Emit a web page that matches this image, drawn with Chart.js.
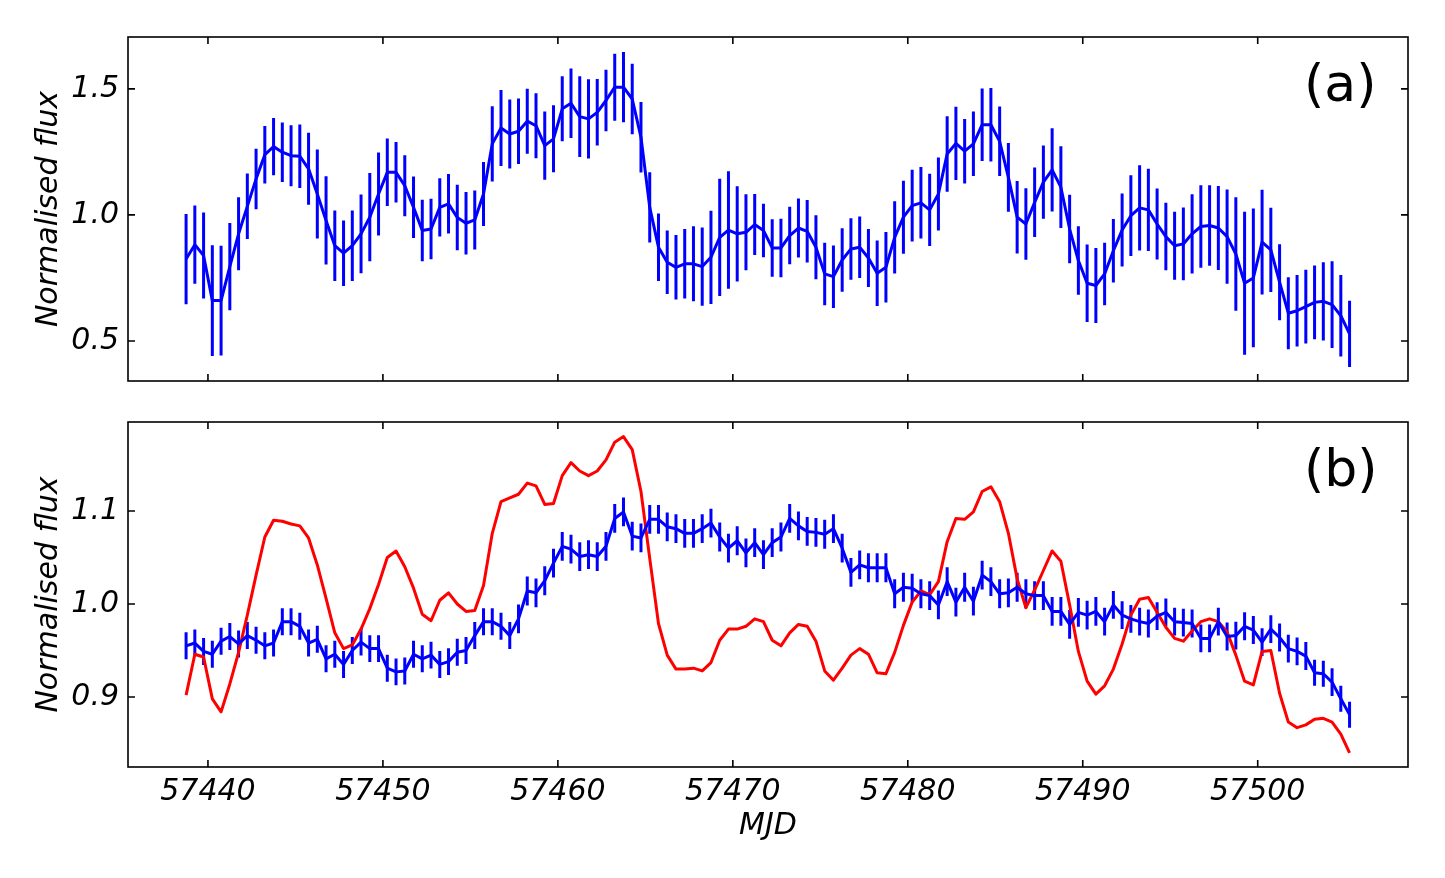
<!DOCTYPE html>
<html>
<head>
<meta charset="utf-8">
<script src="https://cdn.jsdelivr.net/npm/chart.js@4.4.1/dist/chart.umd.min.js"></script>
<style>
  body { margin: 0; background: #fff; }
  canvas { position: absolute; left: 0; }
</style>
</head>
<body>
<canvas id="chartA" width="1445" height="400" style="top:0"></canvas>
<canvas id="chartB" width="1445" height="478" style="top:400px"></canvas>
<script>
// observation times (MJD), one point every half day
const mjd = [
  57438.75, 57439.25, 57439.75, 57440.25, 57440.75, 57441.25, 57441.75, 57442.25, 57442.75, 57443.25,
  57443.75, 57444.25, 57444.75, 57445.25, 57445.75, 57446.25, 57446.75, 57447.25, 57447.75, 57448.25,
  57448.75, 57449.25, 57449.75, 57450.25, 57450.75, 57451.25, 57451.75, 57452.25, 57452.75, 57453.25,
  57453.75, 57454.25, 57454.75, 57455.25, 57455.75, 57456.25, 57456.75, 57457.25, 57457.75, 57458.25,
  57458.75, 57459.25, 57459.75, 57460.25, 57460.75, 57461.25, 57461.75, 57462.25, 57462.75, 57463.25,
  57463.75, 57464.25, 57464.75, 57465.25, 57465.75, 57466.25, 57466.75, 57467.25, 57467.75, 57468.25,
  57468.75, 57469.25, 57469.75, 57470.25, 57470.75, 57471.25, 57471.75, 57472.25, 57472.75, 57473.25,
  57473.75, 57474.25, 57474.75, 57475.25, 57475.75, 57476.25, 57476.75, 57477.25, 57477.75, 57478.25,
  57478.75, 57479.25, 57479.75, 57480.25, 57480.75, 57481.25, 57481.75, 57482.25, 57482.75, 57483.25,
  57483.75, 57484.25, 57484.75, 57485.25, 57485.75, 57486.25, 57486.75, 57487.25, 57487.75, 57488.25,
  57488.75, 57489.25, 57489.75, 57490.25, 57490.75, 57491.25, 57491.75, 57492.25, 57492.75, 57493.25,
  57493.75, 57494.25, 57494.75, 57495.25, 57495.75, 57496.25, 57496.75, 57497.25, 57497.75, 57498.25,
  57498.75, 57499.25, 57499.75, 57500.25, 57500.75, 57501.25, 57501.75, 57502.25, 57502.75, 57503.25,
  57503.75, 57504.25, 57504.75, 57505.25
];

// panel (a)
const fluxA = [
  0.825, 0.882, 0.839, 0.660, 0.660, 0.795, 0.925, 1.034, 1.143, 1.239,
  1.271, 1.249, 1.235, 1.233, 1.183, 1.083, 0.978, 0.878, 0.848, 0.878,
  0.925, 0.991, 1.083, 1.169, 1.169, 1.116, 1.030, 0.938, 0.944, 1.030,
  1.044, 0.990, 0.967, 0.980, 1.083, 1.282, 1.345, 1.321, 1.332, 1.372,
  1.354, 1.275, 1.302, 1.421, 1.443, 1.390, 1.381, 1.407, 1.454, 1.507,
  1.507, 1.460, 1.308, 1.030, 0.872, 0.812, 0.792, 0.806, 0.806, 0.795,
  0.832, 0.911, 0.940, 0.925, 0.931, 0.962, 0.938, 0.869, 0.869, 0.918,
  0.948, 0.935, 0.872, 0.766, 0.755, 0.821, 0.865, 0.872, 0.829, 0.769,
  0.792, 0.911, 0.991, 1.037, 1.048, 1.020, 1.083, 1.242, 1.284, 1.253,
  1.282, 1.358, 1.358, 1.292, 1.149, 0.991, 0.964, 1.050, 1.130, 1.179,
  1.110, 0.944, 0.819, 0.729, 0.720, 0.766, 0.858, 0.940, 0.997, 1.028,
  1.020, 0.964, 0.914, 0.878, 0.885, 0.925, 0.954, 0.958, 0.948, 0.914,
  0.845, 0.729, 0.750, 0.892, 0.861, 0.733, 0.610, 0.620, 0.636, 0.653,
  0.657, 0.644, 0.600, 0.528
];
const errA = [
  0.179, 0.155, 0.171, 0.220, 0.218, 0.173, 0.145, 0.130, 0.120, 0.114,
  0.114, 0.118, 0.121, 0.126, 0.143, 0.177, 0.175, 0.140, 0.130, 0.140,
  0.156, 0.175, 0.165, 0.134, 0.120, 0.121, 0.122, 0.122, 0.120, 0.116,
  0.118, 0.130, 0.124, 0.117, 0.127, 0.149, 0.151, 0.137, 0.130, 0.129,
  0.129, 0.135, 0.133, 0.129, 0.138, 0.160, 0.157, 0.132, 0.122, 0.133,
  0.139, 0.140, 0.140, 0.139, 0.134, 0.126, 0.128, 0.138, 0.149, 0.155,
  0.185, 0.233, 0.233, 0.189, 0.151, 0.121, 0.106, 0.114, 0.116, 0.114,
  0.117, 0.124, 0.127, 0.124, 0.124, 0.126, 0.122, 0.122, 0.115, 0.130,
  0.140, 0.143, 0.145, 0.142, 0.142, 0.143, 0.145, 0.150, 0.145, 0.128,
  0.128, 0.144, 0.146, 0.138, 0.136, 0.144, 0.142, 0.138, 0.145, 0.165,
  0.162, 0.136, 0.136, 0.154, 0.149, 0.124, 0.126, 0.145, 0.160, 0.169,
  0.163, 0.141, 0.134, 0.135, 0.144, 0.157, 0.164, 0.160, 0.167, 0.187,
  0.225, 0.284, 0.275, 0.208, 0.167, 0.151, 0.143, 0.142, 0.146, 0.146,
  0.155, 0.172, 0.162, 0.131
];

// panel (b)
const fluxB = [
  0.955, 0.958, 0.949, 0.946, 0.960, 0.965, 0.957, 0.966, 0.961, 0.955,
  0.958, 0.981, 0.981, 0.976, 0.958, 0.962, 0.941, 0.946, 0.935, 0.950,
  0.959, 0.952, 0.952, 0.931, 0.927, 0.928, 0.946, 0.941, 0.945, 0.935,
  0.938, 0.948, 0.950, 0.966, 0.981, 0.981, 0.976, 0.966, 0.984, 1.014,
  1.012, 1.025, 1.044, 1.062, 1.059, 1.051, 1.053, 1.051, 1.062, 1.092,
  1.099, 1.073, 1.071, 1.091, 1.091, 1.083, 1.081, 1.076, 1.076, 1.081,
  1.087, 1.072, 1.060, 1.068, 1.055, 1.066, 1.053, 1.066, 1.072, 1.092,
  1.084, 1.078, 1.077, 1.075, 1.081, 1.060, 1.034, 1.042, 1.039, 1.039,
  1.039, 1.011, 1.018, 1.017, 1.011, 1.009, 0.999, 1.024, 1.002, 1.018,
  1.003, 1.031, 1.024, 1.011, 1.012, 1.018, 1.011, 1.009, 1.009, 0.992,
  0.992, 0.978, 0.991, 0.988, 0.992, 0.981, 0.999, 0.988, 0.984, 0.981,
  0.979, 0.987, 0.991, 0.981, 0.980, 0.979, 0.963, 0.963, 0.981, 0.965,
  0.966, 0.976, 0.972, 0.959, 0.973, 0.964, 0.952, 0.949, 0.944, 0.926,
  0.925, 0.916, 0.898, 0.881
];
const errB = [
  0.0145, 0.0145, 0.0145, 0.0145, 0.0145, 0.0145, 0.0145, 0.0145, 0.0145, 0.0145,
  0.0145, 0.0145, 0.0145, 0.0145, 0.0145, 0.0145, 0.0145, 0.0145, 0.0145, 0.0145,
  0.0145, 0.0145, 0.0145, 0.0145, 0.0145, 0.0145, 0.0145, 0.0145, 0.0145, 0.0145,
  0.0145, 0.0145, 0.0145, 0.0145, 0.0145, 0.0145, 0.0145, 0.0145, 0.0155, 0.0155,
  0.0155, 0.0155, 0.0155, 0.0155, 0.0155, 0.0155, 0.0155, 0.0155, 0.0155, 0.0155,
  0.0155, 0.0155, 0.0155, 0.0155, 0.0155, 0.0155, 0.0155, 0.0155, 0.0155, 0.0155,
  0.0155, 0.0155, 0.0155, 0.0155, 0.0155, 0.0155, 0.0155, 0.0155, 0.0155, 0.0155,
  0.0155, 0.0155, 0.0155, 0.0155, 0.0155, 0.0155, 0.0155, 0.0155, 0.0155, 0.0155,
  0.0155, 0.0155, 0.0155, 0.0155, 0.0155, 0.0155, 0.0155, 0.0155, 0.0155, 0.0155,
  0.0155, 0.0155, 0.0155, 0.0155, 0.0155, 0.0155, 0.0155, 0.0155, 0.0155, 0.0155,
  0.0155, 0.0155, 0.0155, 0.0155, 0.0155, 0.015, 0.015, 0.015, 0.015, 0.015,
  0.015, 0.015, 0.015, 0.015, 0.015, 0.015, 0.015, 0.015, 0.015, 0.015,
  0.015, 0.015, 0.015, 0.015, 0.015, 0.015, 0.015, 0.015, 0.015, 0.014,
  0.014, 0.015, 0.014, 0.014
];
const fluxRed = [
  0.902, 0.946, 0.943, 0.898, 0.884, 0.914, 0.948, 0.988, 1.031, 1.072,
  1.090, 1.089, 1.086, 1.084, 1.071, 1.042, 1.006, 0.969, 0.952, 0.956,
  0.973, 0.995, 1.021, 1.050, 1.057, 1.040, 1.017, 0.989, 0.982, 1.004,
  1.012, 1.000, 0.992, 0.993, 1.020, 1.076, 1.110, 1.114, 1.118, 1.130,
  1.127, 1.107, 1.108, 1.138, 1.152, 1.143, 1.138, 1.143, 1.155, 1.174,
  1.180, 1.166, 1.121, 1.049, 0.979, 0.945, 0.930, 0.930, 0.931, 0.928,
  0.937, 0.961, 0.973, 0.973, 0.976, 0.984, 0.981, 0.961, 0.955, 0.969,
  0.978, 0.976, 0.960, 0.928, 0.918, 0.931, 0.945, 0.952, 0.946, 0.926,
  0.925, 0.948, 0.977, 1.002, 1.014, 1.010, 1.024, 1.067, 1.092, 1.091,
  1.099, 1.121, 1.126, 1.110, 1.076, 1.027, 0.996, 1.015, 1.036, 1.057,
  1.046, 0.999, 0.949, 0.917, 0.903, 0.912, 0.930, 0.957, 0.988, 1.005,
  1.007, 0.991, 0.975, 0.963, 0.960, 0.971, 0.981, 0.984, 0.981, 0.970,
  0.945, 0.917, 0.913, 0.949, 0.950, 0.904, 0.873, 0.867, 0.870, 0.876,
  0.877, 0.873, 0.860, 0.840
];

const xTicks = [57440, 57450, 57460, 57470, 57480, 57490, 57500];
const yTicksA = [0.5, 1.0, 1.5];
const yTicksB = [0.9, 1.0, 1.1];

const FONT = { family: 'DejaVu Sans', size: 30, style: 'italic' };

// error bars, drawn under the lines
const errorBars = {
  id: 'errorBars',
  beforeDatasetsDraw(chart, args, opts) {
    const { ctx, chartArea: a, scales: { x, y } } = chart;
    const pts = chart.data.datasets[opts.index].data;
    ctx.save();
    ctx.beginPath();
    ctx.rect(a.left, a.top, a.right - a.left, a.bottom - a.top);
    ctx.clip();
    ctx.strokeStyle = opts.color;
    ctx.lineWidth = 3;
    ctx.beginPath();
    pts.forEach((p, i) => {
      const px = x.getPixelForValue(p.x);
      ctx.moveTo(px, y.getPixelForValue(p.y - opts.err[i]));
      ctx.lineTo(px, y.getPixelForValue(p.y + opts.err[i]));
    });
    ctx.stroke();
    ctx.restore();
  }
};

// box frame with inward ticks on all sides, plus the panel letter
const frame = {
  id: 'frame',
  afterDatasetsDraw(chart, args, opts) {
    const { ctx, chartArea: a, scales: { x, y } } = chart;
    const len = 7;
    ctx.save();
    ctx.strokeStyle = '#000';
    ctx.lineWidth = 1.6;
    ctx.strokeRect(a.left, a.top, a.right - a.left, a.bottom - a.top);
    ctx.beginPath();
    x.ticks.forEach(t => {
      const px = x.getPixelForValue(t.value);
      ctx.moveTo(px, a.bottom); ctx.lineTo(px, a.bottom - len);
      ctx.moveTo(px, a.top); ctx.lineTo(px, a.top + len);
    });
    y.ticks.forEach(t => {
      const py = y.getPixelForValue(t.value);
      ctx.moveTo(a.left, py); ctx.lineTo(a.left + len, py);
      ctx.moveTo(a.right, py); ctx.lineTo(a.right - len, py);
    });
    ctx.stroke();
    ctx.fillStyle = '#000';
    ctx.font = '52px "DejaVu Sans"';
    ctx.textAlign = 'left';
    ctx.textBaseline = 'alphabetic';
    ctx.fillText(opts.label, a.right - 104, a.top + opts.labelY);
    ctx.restore();
  }
};

function makeChart(id, datasets, cfg) {
  return new Chart(document.getElementById(id), {
    type: 'line',
    data: { datasets },
    plugins: [errorBars, frame],
    options: {
      responsive: false,
      animation: false,
      layout: { padding: cfg.padding },
      plugins: {
        legend: { display: false },
        tooltip: { enabled: false },
        errorBars: { index: cfg.errIndex, err: cfg.err, color: '#0000ff' },
        frame: { label: cfg.label, labelY: cfg.labelY }
      },
      elements: { point: { radius: 0 }, line: { borderWidth: 3, tension: 0, fill: false, borderJoinStyle: 'round' } },
      scales: {
        x: {
          type: 'linear',
          min: 57435.43,
          max: 57508.59,
          afterBuildTicks: s => { s.ticks = xTicks.map(v => ({ value: v })); },
          ticks: { display: cfg.showX, font: FONT, color: '#000', padding: 7, maxRotation: 0, callback: v => String(v) },
          grid: { display: false, drawTicks: false },
          border: { display: false },
          title: { display: cfg.showX, text: 'MJD', font: FONT, color: '#000', padding: { top: 0, bottom: 34 } },
          afterFit: s => { s.height = cfg.xHeight; }
        },
        y: {
          type: 'linear',
          min: cfg.yMin,
          max: cfg.yMax,
          afterBuildTicks: s => { s.ticks = cfg.yTicks.map(v => ({ value: v })); },
          ticks: { font: FONT, color: '#000', padding: 9, callback: v => v.toFixed(1) },
          grid: { display: false, drawTicks: false },
          border: { display: false },
          title: { display: true, text: 'Normalised flux', font: FONT, color: '#000', padding: { top: 31, bottom: 0 } },
          afterFit: s => { s.width = 128; s.paddingTop = 0; s.paddingBottom = 0; }
        }
      }
    }
  });
}

makeChart('chartA', [
  { data: mjd.map((v, i) => ({ x: v, y: fluxA[i] })), borderColor: '#0000ff' }
], {
  padding: { top: 37, right: 37, bottom: 19, left: 0 },
  yMin: 0.341, yMax: 1.706, yTicks: yTicksA,
  showX: false, xHeight: 0,
  errIndex: 0, err: errA,
  label: '(a)', labelY: 63.5
});

makeChart('chartB', [
  { data: mjd.map((v, i) => ({ x: v, y: fluxB[i] })), borderColor: '#0000ff' },
  { data: mjd.map((v, i) => ({ x: v, y: fluxRed[i] })), borderColor: '#ff0000' }
], {
  padding: { top: 22, right: 37, bottom: 0, left: 0 },
  yMin: 0.8247, yMax: 1.1957, yTicks: yTicksB,
  showX: true, xHeight: 111,
  errIndex: 0, err: errB,
  label: '(b)', labelY: 63.5
});
</script>
</body>
</html>
